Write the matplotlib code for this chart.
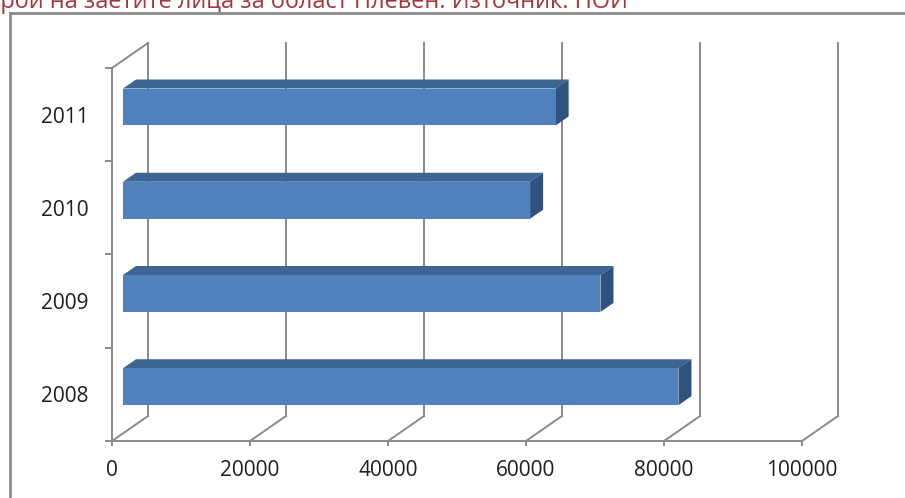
import matplotlib
matplotlib.use("Agg")
import matplotlib.pyplot as plt
from matplotlib.lines import Line2D

# ---- data ----
years = ["2008", "2009", "2010", "2011"]
employed = [80500, 69200, 59000, 62700]
x_ticks = [0, 20000, 40000, 60000, 80000, 100000]
x_labels = ["0", "20000", "40000", "60000", "80000", "100000"]
title = "Брой на заетите лица за област Плевен. Източник: НОИ"
visible_title = "рой на заетите лица за област Плевен. Източник: НОИ"

plt.rcParams['font.family'] = ['Open Sans', 'DejaVu Sans']

W, H = 905, 498
fig = plt.figure(figsize=(W / 100, H / 100), dpi=100)
fig.patch.set_facecolor("white")

def fx(px):
    return px / W

def fy(py):
    return 1 - py / H

# front plane of the 3D box
left_px, right_px, top_px, bot_px = 112, 802, 68, 441
ax = fig.add_axes([fx(left_px), fy(bot_px), (right_px - left_px) / W, (bot_px - top_px) / H])
ax.set_xlim(0, 100000)
ax.set_ylim(0, len(years))
ax.patch.set_visible(False)

grid_c = "#8a8a8a"
lw = 1.4
# depth offsets (36 px right, 25 px up for full depth) in data units
DX = 36 / (right_px - left_px) * 100000
DY = 25 / (bot_px - top_px) * len(years)
ny = len(years)

# back wall gridlines and floor diagonals
for v in x_ticks:
    ax.plot([v + DX, v + DX], [DY, ny + DY], color=grid_c, lw=lw, clip_on=False, zorder=1)
    ax.plot([v, v + DX], [0, DY], color=grid_c, lw=lw, clip_on=False, zorder=1)
# left wall top diagonal
ax.plot([0, DX], [ny, ny + DY], color=grid_c, lw=lw, clip_on=False, zorder=1)

# bars
d0, d1 = 11 / 36, 24 / 36
h = 0.198
front_c, top_c, side_c = "#4f81bd", "#3c6594", "#30527e"
for i, v in enumerate(employed):
    c = i + 0.5
    # top face
    ax.fill([0 + d0 * DX, v + d0 * DX, v + d1 * DX, 0 + d1 * DX],
            [c + h + d0 * DY, c + h + d0 * DY, c + h + d1 * DY, c + h + d1 * DY],
            color=top_c, lw=0, clip_on=False, zorder=3)
    # side face
    ax.fill([v + d0 * DX, v + d0 * DX, v + d1 * DX, v + d1 * DX],
            [c - h + d0 * DY, c + h + d0 * DY, c + h + d1 * DY, c - h + d1 * DY],
            color=side_c, lw=0, clip_on=False, zorder=3)
    # front face
    ax.fill([0 + d0 * DX, v + d0 * DX, v + d0 * DX, 0 + d0 * DX],
            [c - h + d0 * DY, c - h + d0 * DY, c + h + d0 * DY, c + h + d0 * DY],
            color=front_c, lw=0, clip_on=False, zorder=4)

# spines
for s in ["top", "right"]:
    ax.spines[s].set_visible(False)
for s in ["left", "bottom"]:
    ax.spines[s].set_color(grid_c)
    ax.spines[s].set_linewidth(lw)

ax.set_xticks(x_ticks)
ax.set_xticklabels(x_labels)
ax.tick_params(axis="x", length=3.6, width=lw, color=grid_c, pad=10, labelsize=15, labelcolor="#1e1e1e")
ax.set_yticks(range(ny + 1))
ax.set_yticklabels([])
ax.tick_params(axis="y", which="major", length=5, width=lw, color=grid_c)
ax.set_yticks([i + 0.5 for i in range(ny)], minor=True)
ax.set_yticklabels(years, minor=True)
ax.tick_params(axis="y", which="minor", length=0, pad=17, labelsize=15, labelcolor="#1e1e1e")

# outer chart frame
fig.add_artist(Line2D([fx(10), fx(10)], [fy(13), fy(510)], color="#8a8a8a", lw=2))
fig.add_artist(Line2D([fx(10), fx(920)], [fy(13), fy(13)], color="#8a8a8a", lw=2))

# title (cut off by the top/left edge as in the reference)
renderer = fig.canvas.get_renderer()
probe = fig.text(0, 0, visible_title, fontsize=15)
w = probe.get_window_extent(renderer).width
probe.remove()
fs = 15 * 628 / w
fig.text(fx(628), fy(7.5), title, fontsize=fs, color="#a3363a", ha="right", va="baseline")

fig.savefig("out.png", dpi=100)
